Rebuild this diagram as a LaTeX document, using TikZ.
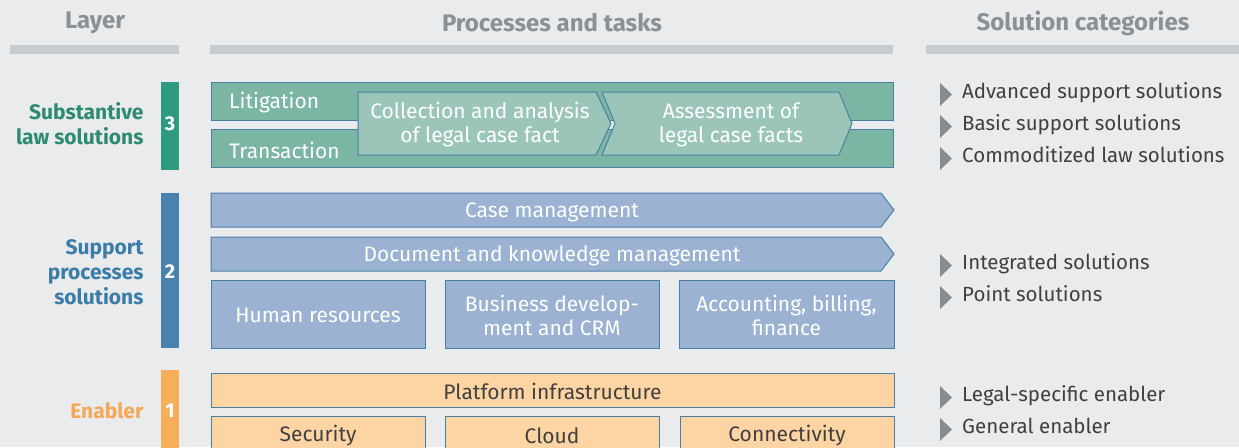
\documentclass[tikz,border=0pt]{standalone}
\usepackage{fontspec}
\setmainfont{Fira Sans}
\definecolor{bg}{HTML}{EAEBED}
\definecolor{hdrbar}{HTML}{C6CBCF}
\definecolor{hdrtext}{HTML}{8A9196}
\definecolor{tealbar}{HTML}{2E9A80}
\definecolor{teallab}{HTML}{2E8A70}
\definecolor{tealbox}{HTML}{7BB6A5}
\definecolor{tealchev}{HTML}{9CC5B9}
\definecolor{bord}{HTML}{4A7FA5}
\definecolor{bluebar}{HTML}{4A82AE}
\definecolor{bluelab}{HTML}{3C7CA8}
\definecolor{bluebox}{HTML}{9BB2D2}
\definecolor{orgbar}{HTML}{F7AE58}
\definecolor{orglab}{HTML}{F5A857}
\definecolor{orgbox}{HTML}{FDD4A3}
\definecolor{darktxt}{HTML}{404040}
\definecolor{trig}{HTML}{858C92}
\tikzset{
  hdr/.style={font=\fontsize{24}{28}\selectfont\bfseries, text=hdrtext},
  lay/.style={font=\fontsize{21}{25}\selectfont\bfseries, align=right, anchor=east},
  num/.style={font=\fontsize{20}{24}\selectfont\bfseries, text=white},
  tbox/.style={draw=bord, line width=1pt, fill=tealbox, inner sep=0pt},
  bbox/.style={draw=bord, line width=1pt, fill=bluebox, inner sep=0pt},
  obox/.style={draw=bord, line width=1pt, fill=orgbox, inner sep=0pt},
  chev/.style={draw=bord, line width=1pt, fill=tealchev},
  barr/.style={draw=bord, line width=1pt, fill=bluebox},
  wtxt/.style={text=white, align=center},
  dtxt/.style={text=darktxt, align=center},
  item/.style={anchor=base west, text=darktxt, inner sep=0pt, font=\fontsize{20.5}{24}\selectfont},
}
\begin{document}
\begin{tikzpicture}[x=1pt,y=-1pt, font=\fontsize{21}{24}\selectfont]
\fill[bg] (0,0) rectangle (1239,447);
\useasboundingbox (0,0) rectangle (1239,447);
% headers
\node[hdr] (hl) at (95,23) {Layer};
\node[hdr] (hp) at (552,23) {Processes and tasks};
\node[hdr] (hs) at (1083,23) {Solution categories};
\fill[hdrbar] (10,45) rectangle (179,54);
\fill[hdrbar] (210,45) rectangle (893,54);
\fill[hdrbar] (926,45) rectangle (1239,54);
% layer 3
\fill[tealbar] (161,82) rectangle (179,170);
\node[num] (n3) at (170,124) {3};
\node[lay, text=teallab] (l3) at (147,124) {Substantive\\law solutions};
\node[tbox, minimum width=682, minimum height=38] (lit) at (552,101) {};
\node[tbox, minimum width=682, minimum height=38] (tra) at (552,148.5) {};
\node[wtxt, anchor=west, inner sep=0pt] (litt) at (229,103) {Litigation};
\node[wtxt, anchor=west, inner sep=0pt] (trat) at (229,150) {Transaction};
\draw[chev] (358,92) -- (596,92) -- (611,123.5) -- (596,155) -- (358,155) -- cycle;
\node[wtxt] (c1) at (480,125) {Collection and analysis\\of legal case fact};
\draw[chev] (602,92) -- (839,92) -- (852,123.5) -- (839,155) -- (602,155) -- (615,123.5) -- cycle;
\node[wtxt] (c2) at (731,125) {Assessment of\\legal case facts};
% layer 2
\fill[bluebar] (161,193) rectangle (179,348);
\node[num] (n2) at (170,272) {2};
\node[lay, text=bluelab] (l2) at (147,272.5) {Support\\processes\\solutions};
\draw[barr] (211,193) -- (881,193) -- (894,210) -- (881,227) -- (211,227) -- cycle;
\node[wtxt] (cm) at (552,212) {Case management};
\draw[barr] (211,237) -- (881,237) -- (894,254) -- (881,271) -- (211,271) -- cycle;
\node[wtxt] (dk) at (552,255.5) {Document and knowledge management};
\node[bbox, minimum width=214, minimum height=68] (hr) at (318,314) {};
\node[bbox, minimum width=214, minimum height=68] (bd) at (552,314) {};
\node[bbox, minimum width=215, minimum height=68] (ac) at (786.5,314) {};
\node[wtxt] (hrt) at (318,315.5) {Human resources};
\node[wtxt] (bdt) at (552,315.5) {Business develop-\\ment and CRM};
\node[wtxt] (act) at (786.5,315.5) {Accounting, billing,\\finance};
% layer 1
\fill[orgbar] (161,370) rectangle (179,450);
\node[num] (n1) at (170,411) {1};
\node[lay, text=orglab] (l1) at (147,411) {Enabler};
\node[obox, minimum width=683, minimum height=34] (pi) at (552.5,390) {};
\node[dtxt] (pit) at (552.5,391.5) {Platform infrastructure};
\node[obox, minimum width=214, minimum height=44] (se) at (318,438) {};
\node[obox, minimum width=214, minimum height=44] (cl) at (552,438) {};
\node[obox, minimum width=214, minimum height=44] (co) at (787,438) {};
\node[dtxt] (set) at (318,436) {Security};
\node[dtxt] (clt) at (552,436) {Cloud};
\node[dtxt] (cot) at (787,436) {Connectivity};
% solution categories
\foreach \b/\t [count=\i] in {98/Advanced support solutions,130/Basic support solutions,162/Commoditized law solutions,269/Integrated solutions,301/Point solutions,401/Legal-specific enabler,433/General enabler}{
  \fill[trig] (940,\b-15) -- (952,\b-3.5) -- (940,\b+8) -- cycle;
  \node[item] (s\i) at (962,\b) {\t};
}
\end{tikzpicture}
\end{document}
